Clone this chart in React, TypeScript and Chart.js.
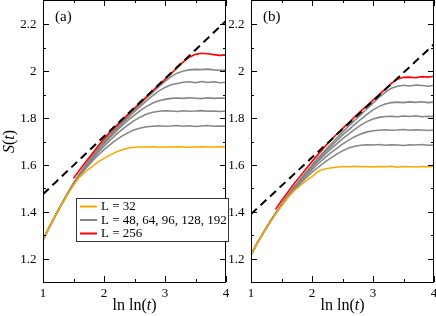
import React, { useEffect, useRef } from "react";
import { Chart, registerables } from "chart.js";
Chart.register(...registerables);

// ---------- data ----------
const xs = [1.0, 1.1, 1.2, 1.3, 1.4, 1.5, 1.6, 1.7, 1.8, 1.9, 2.0, 2.1, 2.2, 2.3, 2.4, 2.5, 2.6, 2.7, 2.8, 2.9, 3.0, 3.1, 3.2, 3.3, 3.4, 3.5, 3.6, 3.7, 3.8, 3.9, 4.0];

// panel (a)
const redA = [null, null, null, null, null, 1.543, 1.578, 1.612, 1.646, 1.68, 1.712, 1.741, 1.767, 1.792, 1.817, 1.842, 1.867, 1.892, 1.917, 1.942, 1.965, 1.99, 2.015, 2.04, 2.06, 2.072, 2.077, 2.075, 2.071, 2.068, 2.07];
const g192A = [1.28, 1.332, 1.382, 1.43, 1.477, 1.522, 1.562, 1.6, 1.636, 1.67, 1.702, 1.732, 1.76, 1.786, 1.811, 1.836, 1.861, 1.886, 1.91, 1.934, 1.957, 1.977, 1.992, 2.001, 2.006, 2.008, 2.007, 2.009, 2.006, 2.004, 2.005];
const g128A = [1.28, 1.332, 1.382, 1.43, 1.477, 1.521, 1.56, 1.597, 1.632, 1.665, 1.696, 1.725, 1.752, 1.778, 1.803, 1.827, 1.851, 1.874, 1.896, 1.916, 1.931, 1.942, 1.948, 1.953, 1.955, 1.951, 1.956, 1.952, 1.955, 1.951, 1.953];
const g96A = [1.28, 1.332, 1.382, 1.43, 1.476, 1.52, 1.558, 1.594, 1.628, 1.66, 1.69, 1.718, 1.744, 1.769, 1.792, 1.813, 1.833, 1.85, 1.864, 1.874, 1.88, 1.884, 1.886, 1.884, 1.887, 1.885, 1.883, 1.887, 1.884, 1.886, 1.885];
const g64A = [1.28, 1.332, 1.381, 1.429, 1.475, 1.518, 1.556, 1.59, 1.622, 1.652, 1.68, 1.706, 1.73, 1.752, 1.772, 1.79, 1.805, 1.817, 1.825, 1.829, 1.831, 1.83, 1.828, 1.831, 1.829, 1.83, 1.832, 1.829, 1.83, 1.828, 1.83];
const g48A = [1.28, 1.331, 1.381, 1.428, 1.474, 1.516, 1.553, 1.585, 1.614, 1.641, 1.665, 1.687, 1.707, 1.724, 1.738, 1.75, 1.758, 1.763, 1.765, 1.767, 1.765, 1.766, 1.768, 1.765, 1.767, 1.764, 1.766, 1.768, 1.765, 1.766, 1.765];
const orangeA = [1.28, 1.331, 1.38, 1.427, 1.472, 1.514, 1.548, 1.572, 1.592, 1.612, 1.628, 1.642, 1.655, 1.665, 1.672, 1.675, 1.677, 1.676, 1.678, 1.675, 1.677, 1.676, 1.678, 1.677, 1.675, 1.677, 1.678, 1.676, 1.677, 1.678, 1.677];
const dashX = [1, 4];
const dashA = [1.475, 2.215];

// panel (b)
const redB = [null, null, null, null, 1.41, 1.447, 1.482, 1.517, 1.55, 1.583, 1.614, 1.645, 1.675, 1.703, 1.73, 1.755, 1.78, 1.805, 1.83, 1.853, 1.877, 1.9, 1.924, 1.948, 1.966, 1.974, 1.975, 1.972, 1.977, 1.975, 1.979];
const g192B = [1.215, 1.265, 1.31, 1.352, 1.393, 1.432, 1.469, 1.504, 1.537, 1.569, 1.6, 1.63, 1.658, 1.686, 1.713, 1.739, 1.765, 1.79, 1.815, 1.84, 1.864, 1.888, 1.91, 1.927, 1.936, 1.94, 1.937, 1.941, 1.939, 1.936, 1.94];
const g128B = [1.215, 1.265, 1.31, 1.352, 1.393, 1.431, 1.467, 1.501, 1.534, 1.565, 1.595, 1.624, 1.651, 1.677, 1.702, 1.727, 1.75, 1.773, 1.795, 1.816, 1.835, 1.85, 1.86, 1.866, 1.868, 1.866, 1.869, 1.867, 1.87, 1.866, 1.868];
const g96B = [1.215, 1.265, 1.31, 1.351, 1.392, 1.43, 1.465, 1.498, 1.53, 1.56, 1.589, 1.616, 1.642, 1.666, 1.689, 1.711, 1.732, 1.752, 1.77, 1.785, 1.796, 1.803, 1.807, 1.808, 1.806, 1.809, 1.807, 1.81, 1.806, 1.808, 1.807];
const g64B = [1.215, 1.265, 1.309, 1.351, 1.391, 1.428, 1.463, 1.495, 1.525, 1.553, 1.58, 1.605, 1.628, 1.65, 1.67, 1.689, 1.706, 1.72, 1.732, 1.741, 1.746, 1.748, 1.75, 1.748, 1.749, 1.751, 1.748, 1.75, 1.749, 1.747, 1.749];
const g48B = [1.215, 1.264, 1.309, 1.35, 1.39, 1.426, 1.46, 1.49, 1.518, 1.544, 1.568, 1.59, 1.61, 1.628, 1.645, 1.66, 1.672, 1.68, 1.684, 1.686, 1.685, 1.687, 1.684, 1.686, 1.685, 1.683, 1.686, 1.685, 1.687, 1.684, 1.685];
const orangeB = [1.215, 1.264, 1.308, 1.349, 1.388, 1.425, 1.46, 1.488, 1.51, 1.532, 1.55, 1.572, 1.582, 1.587, 1.59, 1.593, 1.592, 1.594, 1.592, 1.593, 1.591, 1.593, 1.592, 1.594, 1.59, 1.593, 1.592, 1.591, 1.593, 1.592, 1.594];
const dashB = [1.39, 2.115];

// ticks
const xTicks = [1, 2, 3, 4];
const xTickLabels = ["1", "2", "3", "4"];
const xMinor = [1.5, 2.5, 3.5];
const yTicks = [1.2, 1.4, 1.6, 1.8, 2.0, 2.2];
const yTickLabels = ["1.2", "1.4", "1.6", "1.8", "2", "2.2"];
const yMinor = [1.3, 1.5, 1.7, 1.9, 2.1];

const legendLabels = ["L = 32", "L = 48, 64, 96, 128, 192", "L = 256"];

const ORANGE = "#ffa500";
const GRAY = "#868686";
const RED = "#ff0000";
const SERIF = "'Liberation Serif', 'Times New Roman', serif";

Chart.defaults.font.family = SERIF;
Chart.defaults.font.size = 13;
Chart.defaults.color = "#000";

const pts = (arr: (number | null)[]) => xs.map((x, i) => ({ x, y: arr[i] }));
const pts2 = (ys: number[]) => dashX.map((x, i) => ({ x, y: ys[i] }));

function line(data: any, color: string, width: number, dash?: number[]) {
  return {
    data,
    borderColor: color,
    borderWidth: width,
    borderDash: dash || [],
    pointRadius: 0,
    tension: 0,
    fill: false,
    spanGaps: false,
  };
}

function decorPlugin(cfg: { label: string; legend: boolean }) {
  return {
    id: "decor",
    afterDraw(chart: any) {
      const ctx = chart.ctx;
      const { left, right, top, bottom } = chart.chartArea;
      const xs_ = chart.scales.x;
      const ys_ = chart.scales.y;
      ctx.save();
      ctx.setLineDash([]);
      ctx.fillStyle = "#000";
      const l = Math.round(left), r = Math.round(right) - 1;
      const t = Math.max(0, Math.round(top) - 1), b = Math.round(bottom);
      // frame
      ctx.fillRect(l, t, r - l + 1, 1);
      ctx.fillRect(l, b, r - l + 1, 1);
      ctx.fillRect(l, t, 1, b - t + 1);
      ctx.fillRect(r, t, 1, b - t + 1);
      const major = 6, minor = 3;
      const vt = (v: number, len: number) => {
        const p = Math.round(xs_.getPixelForValue(v));
        ctx.fillRect(p, b - len, 1, len);
        ctx.fillRect(p, t, 1, len);
      };
      const ht = (v: number, len: number) => {
        const p = Math.round(ys_.getPixelForValue(v));
        ctx.fillRect(l, p, len, 1);
        ctx.fillRect(r - len + 1, p, len, 1);
      };
      xTicks.forEach((v) => vt(v, major));
      xMinor.forEach((v) => vt(v, minor));
      yTicks.forEach((v) => ht(v, major));
      yMinor.forEach((v) => ht(v, minor));

      // tick labels
      ctx.font = `13px ${SERIF}`;
      ctx.textAlign = "right";
      ctx.textBaseline = "middle";
      yTicks.forEach((v, i) => {
        ctx.fillText(yTickLabels[i], left - 6.5, ys_.getPixelForValue(v) + 0.5);
      });
      ctx.textAlign = "center";
      ctx.textBaseline = "alphabetic";
      xTicks.forEach((v, i) => {
        ctx.fillText(xTickLabels[i], xs_.getPixelForValue(v), bottom + 15);
      });

      // panel label
      ctx.font = `15px ${SERIF}`;
      ctx.textAlign = "left";
      ctx.fillText(cfg.label, left + 12, 21);

      // x axis title: ln ln(t)
      const cx = (left + right) / 2;
      const base = 310;
      ctx.font = `16px ${SERIF}`;
      const p1 = "ln ln(";
      const p3 = ")";
      const w1 = ctx.measureText(p1).width;
      const w3 = ctx.measureText(p3).width;
      ctx.font = `italic 16px ${SERIF}`;
      const w2 = ctx.measureText("t").width;
      const sx = cx - (w1 + w2 + w3) / 2;
      ctx.font = `16px ${SERIF}`;
      ctx.fillText(p1, sx, base);
      ctx.font = `italic 16px ${SERIF}`;
      ctx.fillText("t", sx + w1, base);
      ctx.font = `16px ${SERIF}`;
      ctx.fillText(p3, sx + w1 + w2, base);

      if (cfg.legend) {
        ctx.save();
        ctx.translate(14, (top + bottom) / 2);
        ctx.rotate(-Math.PI / 2);
        ctx.font = `italic 16px ${SERIF}`;
        const a = ctx.measureText("S").width;
        const c = ctx.measureText("t").width;
        ctx.font = `16px ${SERIF}`;
        const bb = ctx.measureText("(").width;
        const s = -(a + bb + c + bb) / 2;
        ctx.font = `italic 16px ${SERIF}`;
        ctx.fillText("S", s, 0);
        ctx.font = `16px ${SERIF}`;
        ctx.fillText("(", s + a, 0);
        ctx.font = `italic 16px ${SERIF}`;
        ctx.fillText("t", s + a + bb, 0);
        ctx.font = `16px ${SERIF}`;
        ctx.fillText(")", s + a + bb + c, 0);
        ctx.restore();

        // legend
        const bx = 76.5, by = 198.5, bw = 152, bh = 43;
        ctx.fillStyle = "#fff";
        ctx.fillRect(bx, by, bw, bh);
        ctx.strokeStyle = "#333";
        ctx.lineWidth = 1;
        ctx.strokeRect(bx, by, bw, bh);
        const cols = [ORANGE, GRAY, RED];
        const rows = [206.5, 220, 233.5];
        ctx.font = `13px ${SERIF}`;
        ctx.textAlign = "left";
        ctx.textBaseline = "middle";
        for (let i = 0; i < 3; i++) {
          ctx.strokeStyle = cols[i];
          ctx.lineWidth = 2;
          ctx.beginPath();
          ctx.moveTo(80, rows[i]);
          ctx.lineTo(97, rows[i]);
          ctx.stroke();
          ctx.fillStyle = "#000";
          ctx.fillText(legendLabels[i], 101, rows[i] + 0.5);
        }
      }
      ctx.restore();
    },
  };
}

function makeChart(canvas: HTMLCanvasElement, opt: any) {
  return new Chart(canvas, {
    type: "line",
    data: {
      datasets: [
        line(pts2(opt.dash), "#000", 2, [8, 5]),
        line(pts(opt.red), RED, 1.6),
        line(pts(opt.orange), ORANGE, 1.5),
        line(pts(opt.g192), GRAY, 1.6),
        line(pts(opt.g128), GRAY, 1.6),
        line(pts(opt.g96), GRAY, 1.6),
        line(pts(opt.g64), GRAY, 1.6),
        line(pts(opt.g48), GRAY, 1.6),
      ] as any,
    },
    options: {
      animation: false,
      responsive: false,
      maintainAspectRatio: false,
      devicePixelRatio: 1,
      events: [],
      layout: { padding: { left: 0, right: opt.padRight, top: 1, bottom: 0 } },
      plugins: { legend: { display: false }, tooltip: { enabled: false } },
      scales: {
        x: {
          type: "linear",
          min: 1,
          max: 4,
          grid: { display: false },
          border: { display: false },
          ticks: { display: false },
          afterFit: (s: any) => {
            s.height = 34;
            s.paddingLeft = 0;
            s.paddingRight = 0;
          },
        },
        y: {
          type: "linear",
          min: 1.1,
          max: 2.3,
          grid: { display: false },
          border: { display: false },
          ticks: { display: false },
          afterFit: (s: any) => {
            s.width = opt.yWidth;
            s.paddingTop = 0;
            s.paddingBottom = 0;
          },
        },
      },
    } as any,
    plugins: [decorPlugin({ label: opt.label, legend: opt.legend })],
  });
}

export default function App() {
  const refA = useRef<HTMLCanvasElement>(null);
  const refB = useRef<HTMLCanvasElement>(null);
  useEffect(() => {
    const b = makeChart(refB.current!, {
      dash: dashB, red: redB, orange: orangeB, g192: g192B, g128: g128B, g96: g96B, g64: g64B, g48: g48B,
      padRight: 2, yWidth: 31, label: "(b)", legend: false,
    });
    const a = makeChart(refA.current!, {
      dash: dashA, red: redA, orange: orangeA, g192: g192A, g128: g128A, g96: g96A, g64: g64A, g48: g48A,
      padRight: 6, yWidth: 43, label: "(a)", legend: true,
    });
    return () => {
      a.destroy();
      b.destroy();
    };
  }, []);
  return (
    <div style={{ position: "absolute", left: 0, top: 0, width: 436, height: 316, background: "#fff", overflow: "hidden" }}>
      <canvas ref={refB} width={216} height={316} style={{ position: "absolute", left: 220, top: 0, width: 216, height: 316, zIndex: 1 }} />
      <canvas ref={refA} width={232} height={316} style={{ position: "absolute", left: 0, top: 0, width: 232, height: 316, zIndex: 2 }} />
    </div>
  );
}
